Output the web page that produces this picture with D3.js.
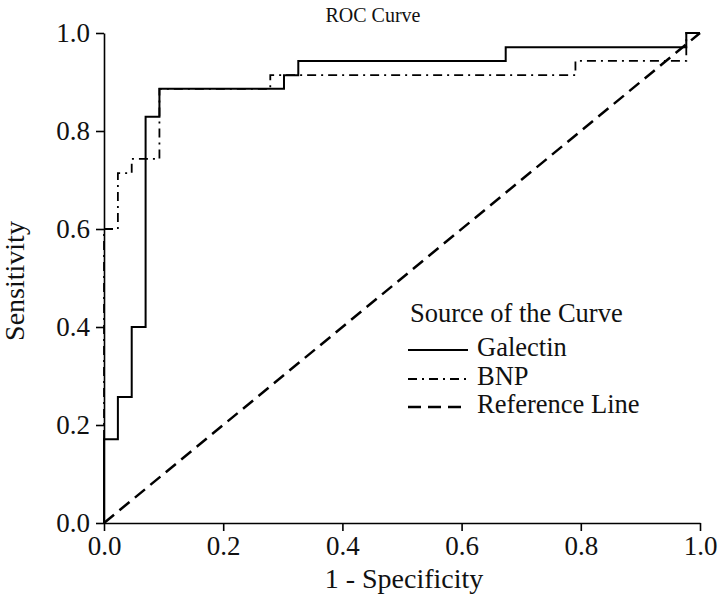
<!DOCTYPE html>
<html>
<head>
<meta charset="utf-8">
<script src="https://cdn.jsdelivr.net/npm/d3@7"></script>
<style>
  html, body { margin: 0; padding: 0; background: #fff; }
  svg { display: block; font-family: "Liberation Serif", "Times New Roman", serif; }
</style>
</head>
<body>
<svg id="chart" width="719" height="608"></svg>
<script>
// ---- Data ----
const galectinFPR = [0, 0, 0.0233, 0.0465, 0.0698, 0.093, 0.302, 0.326, 0.674, 0.977, 1];
const galectinTPR = [0, 0.171, 0.257, 0.400, 0.829, 0.886, 0.914, 0.943, 0.971, 1.0, 1.0];
const bnpFPR = [0, 0, 0.0233, 0.0465, 0.093, 0.279, 0.791, 0.977, 1];
const bnpTPR = [0, 0.600, 0.714, 0.743, 0.886, 0.914, 0.943, 1.0, 1.0];
const refFPR = [0, 1];
const refTPR = [0, 1];
const tickValues = [0, 0.2, 0.4, 0.6, 0.8, 1.0];
const legendLabels = ["Galectin", "BNP", "Reference Line"];

const svg = d3.select("#chart");
const x = d3.scaleLinear().domain([0, 1]).range([104, 700]);
const y = d3.scaleLinear().domain([0, 1]).range([523, 33]);

const fs = 27;

// Axes
const xAxis = d3.axisBottom(x).tickValues(tickValues).tickFormat(d3.format(".1f")).tickSizeOuter(0).tickSizeInner(8).tickPadding(5);
const yAxis = d3.axisLeft(y).tickValues(tickValues).tickFormat(d3.format(".1f")).tickSizeOuter(0).tickSizeInner(8).tickPadding(6);

const gx = svg.append("g").attr("transform", `translate(0,${y(0)})`).call(xAxis);
const gy = svg.append("g").attr("transform", `translate(${x(0)},0)`).call(yAxis);
[gx, gy].forEach(g => {
  g.selectAll("path, line").attr("stroke", "#000").attr("stroke-width", 1.6);
  g.selectAll("text").attr("font-size", fs).attr("font-family", "Liberation Serif").attr("fill", "#111");
});

const toPts = (xs, ys) => xs.map((v, i) => [v, ys[i]]);
const stepLine = d3.line().x(d => x(d[0])).y(d => y(d[1])).curve(d3.curveStepAfter);
const straight = d3.line().x(d => x(d[0])).y(d => y(d[1]));

// Reference line
svg.append("path").attr("d", straight(toPts(refFPR, refTPR)))
  .attr("fill", "none").attr("stroke", "#000").attr("stroke-width", 2.5)
  .attr("stroke-dasharray", "13,7");

// BNP
svg.append("path").attr("d", stepLine(toPts(bnpFPR, bnpTPR)))
  .attr("fill", "none").attr("stroke", "#000").attr("stroke-width", 1.8)
  .attr("stroke-dasharray", "9,5,2,5");

// Galectin
svg.append("path").attr("d", stepLine(toPts(galectinFPR, galectinTPR)))
  .attr("fill", "none").attr("stroke", "#000").attr("stroke-width", 2);

// Title
svg.append("text").attr("x", 373).attr("y", 22).attr("text-anchor", "middle")
  .attr("font-size", 20).attr("fill", "#111").text("ROC Curve");

// Axis titles
svg.append("text").attr("x", 404).attr("y", 588).attr("text-anchor", "middle")
  .attr("font-size", 28).attr("fill", "#111").text("1 - Specificity");
svg.append("text").attr("transform", "translate(24,281) rotate(-90)").attr("text-anchor", "middle")
  .attr("font-size", 28).attr("fill", "#111").text("Sensitivity");

// Legend
const lfs = 26.5;
const lg = svg.append("g");
lg.append("text").attr("x", 410).attr("y", 322).attr("font-size", lfs).attr("fill", "#111").text("Source of the Curve");
const styles = [
  { w: 2, dash: null },
  { w: 1.8, dash: "9,5,2,5" },
  { w: 2.5, dash: "13,7" }
];
const rowY = [350, 379, 407];
legendLabels.forEach((lab, i) => {
  const ln = lg.append("line").attr("x1", 408).attr("x2", 468).attr("y1", rowY[i]).attr("y2", rowY[i])
    .attr("stroke", "#000").attr("stroke-width", styles[i].w);
  if (styles[i].dash) ln.attr("stroke-dasharray", styles[i].dash);
  lg.append("text").attr("x", 477).attr("y", rowY[i] + 6).attr("font-size", lfs).attr("fill", "#111").text(lab);
});
</script>
</body>
</html>
